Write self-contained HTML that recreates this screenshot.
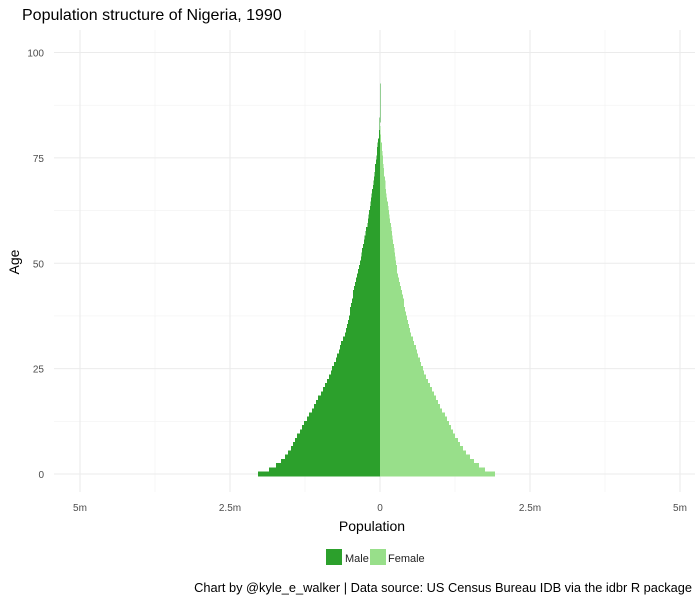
<!DOCTYPE html>
<html><head><meta charset="utf-8"><style>
body{margin:0;background:#fff;font-family:"Liberation Sans",Arial,sans-serif}
svg text{font-family:"Liberation Sans",Arial,sans-serif}
</style></head><body>
<svg id="chart" width="700" height="600">
<text x="22" y="20" font-size="16" fill="#000">Population structure of Nigeria, 1990</text>
<g id="grid"></g>
<g id="bars" shape-rendering="crispEdges"></g>
<g id="axes"></g>
<text x="372" y="531" font-size="14" text-anchor="middle">Population</text>
<text transform="translate(19,262) rotate(-90)" font-size="14" text-anchor="middle">Age</text>
<g>
<rect x="326" y="549" width="16" height="16" fill="#2ca02c"/>
<text x="345" y="562" font-size="11" fill="#222">Male</text>
<rect x="370" y="549" width="16" height="16" fill="#98df8a"/>
<text x="388" y="562" font-size="11" fill="#222">Female</text>
</g>
<text x="692" y="592" font-size="12.8" text-anchor="end">Chart by @kyle_e_walker | Data source: US Census Bureau IDB via the idbr R package</text>
</svg>
<script>
// values in millions, index = age
const male = [2.03,1.85,1.73,1.65,1.58,1.53,1.48,1.45,1.42,1.38,1.33,1.30,1.27,1.22,1.18,1.13,1.10,1.07,1.03,0.98,0.95,0.92,0.88,0.85,0.82,0.80,0.77,0.73,0.72,0.68,0.67,0.65,0.62,0.58,0.57,0.55,0.53,0.52,0.50,0.50,0.48,0.47,0.45,0.45,0.43,0.42,0.40,0.38,0.37,0.35,0.33,0.32,0.31,0.30,0.28,0.27,0.26,0.24,0.23,0.21,0.20,0.19,0.18,0.17,0.16,0.15,0.14,0.13,0.12,0.11,0.10,0.09,0.08,0.08,0.07,0.06,0.05,0.05,0.04,0.03,0.02,0.015,0.01,0.006,0.005,0.004,0.004,0.003,0.003,0.003,0.002,0.002,0.002];
const female = [1.92,1.75,1.65,1.57,1.50,1.43,1.38,1.33,1.30,1.25,1.22,1.18,1.15,1.12,1.08,1.03,1.00,0.97,0.93,0.90,0.87,0.83,0.80,0.77,0.73,0.72,0.68,0.67,0.63,0.62,0.60,0.57,0.55,0.52,0.50,0.48,0.47,0.45,0.43,0.42,0.40,0.40,0.38,0.37,0.35,0.33,0.32,0.30,0.28,0.28,0.27,0.26,0.25,0.24,0.23,0.22,0.21,0.20,0.19,0.18,0.17,0.16,0.15,0.14,0.13,0.12,0.11,0.10,0.09,0.09,0.08,0.07,0.07,0.06,0.05,0.05,0.04,0.03,0.03,0.02,0.02,0.01,0.005];
const xTicks = [-5,-2.5,0,2.5,5];
const xTickLabels = ["5m","2.5m","0","2.5m","5m"];
const yTicks = [0,25,50,75,100];

const NS="http://www.w3.org/2000/svg";
const X = v => 380 + v*60;
const Y = a => 474 - a*4.215;
const L={x0:54,x1:695,y0:30,y1:492};
const grid=document.getElementById('grid'), bars=document.getElementById('bars'), axes=document.getElementById('axes');
function mk(tag,attrs,parent){const e=document.createElementNS(NS,tag);for(const k in attrs)e.setAttribute(k,attrs[k]);parent.appendChild(e);return e;}
for(let i=0;i<xTicks.length-1;i++){const v=(xTicks[i]+xTicks[i+1])/2;
const g=mk('line',{x1:X(v),x2:X(v),y1:L.y0,y2:L.y1,stroke:'#f2f2f2','stroke-width':0.6},grid);

}
for(let i=0;i<yTicks.length-1;i++){const v=(yTicks[i]+yTicks[i+1])/2;
const g=mk('line',{x1:L.x0,x2:L.x1,y1:Y(v),y2:Y(v),stroke:'#f2f2f2','stroke-width':0.6},grid);

}
xTicks.forEach((v,i)=>{
const g=mk('line',{x1:X(v),x2:X(v),y1:L.y0,y2:L.y1,stroke:'#ebebeb','stroke-width':1.1},grid);


const t=mk('text',{x:X(v),y:511,'font-size':10,'text-anchor':'middle',fill:'#4d4d4d'},axes);t.textContent=xTickLabels[i];

});
yTicks.forEach(v=>{
const g=mk('line',{x1:L.x0,x2:L.x1,y1:Y(v),y2:Y(v),stroke:'#ebebeb','stroke-width':1.1},grid);


const t=mk('text',{x:44,y:Y(v)+4,'font-size':10,'text-anchor':'end',fill:'#4d4d4d'},axes);t.textContent=v;

});
const h=4.215;
male.forEach((v,a)=>{
const r=mk('rect',{x:X(-v),y:Y(a)-h/2-0.4,width:Math.max(X(0)-X(-v),0.6),height:h+0.8,fill:'#2ca02c'},bars);

});
female.forEach((v,a)=>{
const r=mk('rect',{x:X(0),y:Y(a)-h/2-0.4,width:Math.max(X(v)-X(0),0.6),height:h+0.8,fill:'#98df8a'},bars);

});
</script>
</body></html>
